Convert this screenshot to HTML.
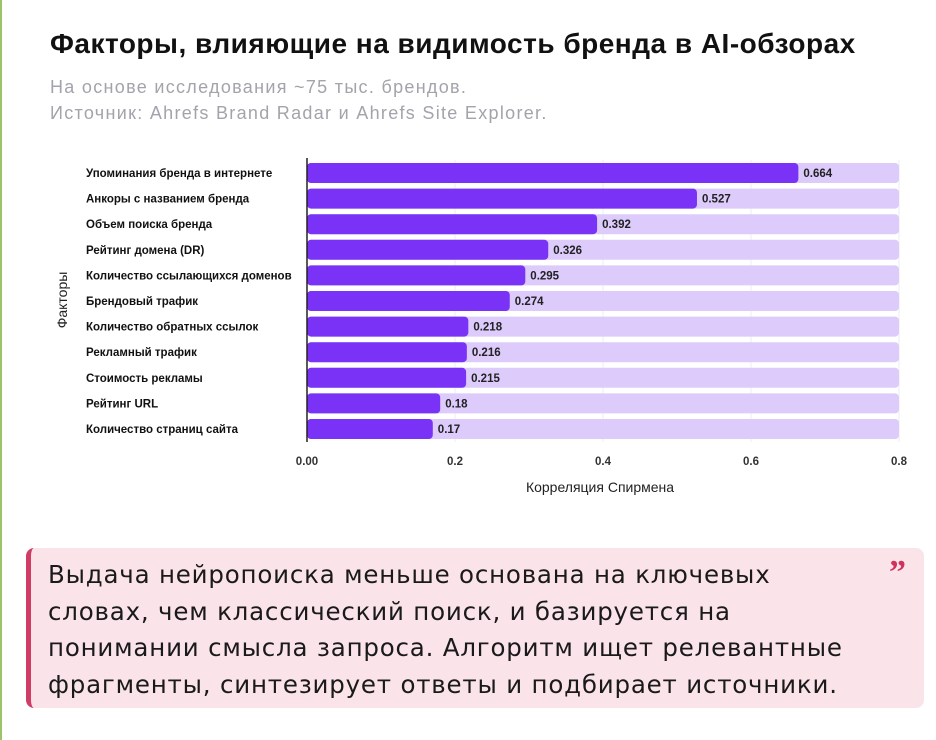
<!DOCTYPE html>
<html><head><meta charset="utf-8"><style>
body{margin:0;width:936px;height:740px;background:#fff;position:relative;overflow:hidden;font-family:"Liberation Sans","DejaVu Sans",sans-serif}
.edge{position:absolute;left:0;top:0;width:2px;height:740px;background:#9bc46a}
#title{position:absolute;left:50px;top:28px;font-size:28px;font-weight:bold;color:#111;letter-spacing:0.5px}
.sub{position:absolute;left:50px;font-size:18px;color:#a3a3ab;letter-spacing:1.3px}
#quote{position:absolute;left:26px;top:548px;width:898px;height:160px;background:#fae4ea;border-left:5px solid #cf3d67;border-radius:8px;box-sizing:border-box}
#qtext{position:absolute;left:17px;top:9px;font-family:"DejaVu Sans",sans-serif;font-size:24.5px;line-height:36.5px;color:#1a1a1a;letter-spacing:0.8px;white-space:nowrap}
#qmark{position:absolute;right:18px;top:6px;color:#d0325e;font-size:34px;font-weight:bold;font-family:"Liberation Serif",serif}
</style></head><body>
<div class="edge"></div>
<div id="title">Факторы, влияющие на видимость бренда в AI-обзорах</div>
<div class="sub" style="top:77px">На основе исследования ~75 тыс. брендов.</div>
<div class="sub" style="top:103px">Источник: Ahrefs Brand Radar и Ahrefs Site Explorer.</div>
<svg id="chart" width="936" height="520" style="position:absolute;left:0;top:0"></svg>
<div id="quote">
<div id="qtext">Выдача нейропоиска меньше основана на ключевых<br>словах, чем классический поиск, и базируется на<br>понимании смысла запроса. Алгоритм ищет релевантные<br>фрагменты, синтезирует ответы и подбирает источники.</div>
<div id="qmark">”</div>
</div>
<script>
const categories=["Упоминания бренда в интернете","Анкоры с названием бренда","Объем поиска бренда","Рейтинг домена (DR)","Количество ссылающихся доменов","Брендовый трафик","Количество обратных ссылок","Рекламный трафик","Стоимость рекламы","Рейтинг URL","Количество страниц сайта"];
const values=[0.664,0.527,0.392,0.326,0.295,0.274,0.218,0.216,0.215,0.18,0.17];
const ticks=[0,0.2,0.4,0.6,0.8];
const tickLabels=["0.00","0.2","0.4","0.6","0.8"];
const xMax=0.8;
const svg=document.getElementById('chart');
const NS='http://www.w3.org/2000/svg';
const x0=307,x1=899,y0=173,step=25.6,bh=20;
const xs=v=>x0+(v/xMax)*(x1-x0);
const ys=i=>y0+i*step;
function mk(t,a){const e=document.createElementNS(NS,t);for(const k in a)e.setAttribute(k,a[k]);svg.appendChild(e);return e;}
ticks.forEach((t,i)=>{
 const g=mk('line',{x1:xs(t),x2:xs(t),y1:160,y2:442,stroke:'#ececf0','stroke-width':1});
 
 
 const l=mk('text',{x:xs(t),y:465,'text-anchor':'middle','font-size':11.5,'font-weight':'bold',fill:'#333'});
 l.textContent=tickLabels[i];
 
 
});
categories.forEach((c,i)=>{
 const bg=mk('rect',{x:xs(0),y:ys(i)-bh/2,width:xs(xMax)-xs(0),height:bh,rx:4,fill:'#dccbfb'});
 
 
 const b=mk('rect',{x:xs(0),y:ys(i)-bh/2,width:xs(values[i])-xs(0),height:bh,rx:4,fill:'#7a33f6'});
 
 
 const v=mk('text',{x:xs(values[i])+5,y:ys(i)+4,'font-size':11.5,'font-weight':'bold',fill:'#222'});
 v.textContent=values[i];
 
 
 const cl=mk('text',{x:86,y:ys(i)+4,'font-size':11.5,'font-weight':'bold',fill:'#111'});
 cl.textContent=c;
 
 
});
const ax=mk('line',{x1:x0,x2:x0,y1:158,y2:442,stroke:'#222','stroke-width':1.5});


const xt=mk('text',{x:600,y:492,'text-anchor':'middle','font-size':14,fill:'#222'});
xt.textContent='Корреляция Спирмена';


const yt=mk('text',{x:0,y:0,'text-anchor':'middle','font-size':14,fill:'#222',transform:'translate(67,300) rotate(-90)'});
yt.textContent='Факторы';


</script>
</body></html>
